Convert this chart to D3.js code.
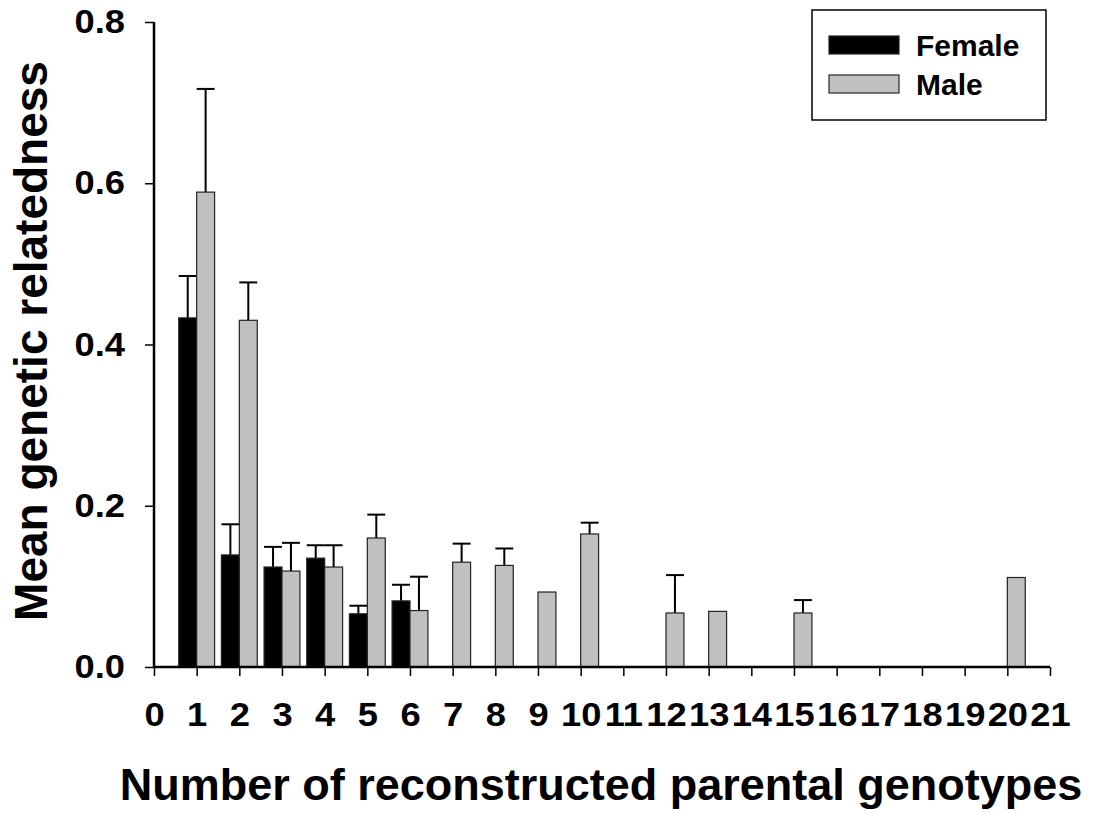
<!DOCTYPE html>
<html><head><meta charset="utf-8">
<script src="https://cdn.jsdelivr.net/npm/d3@7"></script>
<style>html,body{margin:0;padding:0;background:#fff;}svg{display:block;}text{font-family:"Liberation Sans",Arial,sans-serif;font-weight:bold;}</style>
</head><body>
<svg id="chart" width="1100" height="813"></svg>
<script>
const femaleX = [1, 2, 3, 4, 5, 6];
const femaleMean = [0.433, 0.139, 0.124, 0.135, 0.066, 0.082];
const femaleSE = [0.052, 0.038, 0.025, 0.016, 0.010, 0.020];
const maleX = [1, 2, 3, 4, 5, 6, 7, 8, 9, 10, 12, 13, 15, 20];
const maleMean = [0.589, 0.430, 0.119, 0.124, 0.160, 0.070, 0.130, 0.126, 0.093, 0.165, 0.067, 0.069, 0.067, 0.111];
const maleSE = [0.128, 0.047, 0.035, 0.027, 0.029, 0.042, 0.023, 0.021, 0, 0.014, 0.047, 0, 0.016, 0];
const xTicks = d3.range(0, 22);
const yTicks = [0.0, 0.2, 0.4, 0.6, 0.8];
const seriesNames = ["Female", "Male"];
const seriesColors = ["#000000", "#c0c0c0"];

const svg = d3.select("#chart");
const x = d3.scaleLinear().domain([0, 21]).range([154, 1050]);
const y = d3.scaleLinear().domain([0, 0.8]).range([667, 22]);
const unit = x(1) - x(0);
const bw = unit * 0.42;

const female = femaleX.map((c, i) => ({c, v: femaleMean[i], e: femaleSE[i], off: -1}));
const male = maleX.map((c, i) => ({c, v: maleMean[i], e: maleSE[i], off: 0}));

function drawSeries(data, color) {
  const g = svg.append("g");
  g.selectAll("line.err").data(data.filter(d => d.e > 0)).enter().append("line")
    .attr("x1", d => x(d.c) + d.off * bw + bw / 2).attr("x2", d => x(d.c) + d.off * bw + bw / 2)
    .attr("y1", d => y(d.v)).attr("y2", d => y(d.v + d.e))
    .attr("stroke", "#000").attr("stroke-width", 2);
  g.selectAll("line.cap").data(data.filter(d => d.e > 0)).enter().append("line")
    .attr("x1", d => x(d.c) + d.off * bw).attr("x2", d => x(d.c) + d.off * bw + bw)
    .attr("y1", d => y(d.v + d.e)).attr("y2", d => y(d.v + d.e))
    .attr("stroke", "#000").attr("stroke-width", 2);
  g.selectAll("rect").data(data).enter().append("rect")
    .attr("x", d => x(d.c) + d.off * bw).attr("width", bw)
    .attr("y", d => y(d.v)).attr("height", d => y(0) - y(d.v))
    .attr("fill", color).attr("stroke", "#222").attr("stroke-width", 1.2);
}
drawSeries(female, seriesColors[0]);
drawSeries(male, seriesColors[1]);

const xAxis = svg.append("g").attr("transform", `translate(0,${y(0)})`)
  .call(d3.axisBottom(x).tickValues(xTicks).tickSize(9).tickPadding(27).tickFormat(d3.format("d")));
const yAxis = svg.append("g").attr("transform", `translate(${x(0)},0)`)
  .call(d3.axisLeft(y).tickValues(yTicks).tickSize(9).tickPadding(20).tickFormat(d3.format(".1f")));
[xAxis, yAxis].forEach(a => {
  a.attr("font-size", null).attr("font-family", null);
  a.select(".domain").attr("stroke", "#000").attr("stroke-width", 2.5);
  a.selectAll(".tick line").attr("stroke", "#000").attr("stroke-width", 1.5);
  a.selectAll("text").attr("fill", "#000").style("font-size", "33px").style("font-weight", "bold")
    .style("font-family", '"Liberation Sans", Arial, sans-serif')
    .attr("transform", "scale(1.1,1)");
});
yAxis.selectAll("text").attr("x", -29 / 1.1);
xAxis.select(".domain").attr("d", `M${x(0)},0H${x(21)}`);
yAxis.select(".domain").attr("d", `M0,${y(0.8)}V${y(0)}`);

svg.append("text").attr("x", 601).attr("y", 800).attr("text-anchor", "middle")
  .style("font-size", "45px").text("Number of reconstructed parental genotypes");
svg.append("text").attr("transform", "translate(47,341) rotate(-90)").attr("text-anchor", "middle")
  .style("font-size", "46px").text("Mean genetic relatedness");

const lg = svg.append("g");
lg.append("rect").attr("x", 812).attr("y", 10).attr("width", 234).attr("height", 110)
  .attr("fill", "#fff").attr("stroke", "#000").attr("stroke-width", 1.5);
seriesNames.forEach((n, i) => {
  lg.append("rect").attr("x", 829).attr("y", 36 + i * 39).attr("width", 70).attr("height", 18)
    .attr("fill", seriesColors[i]).attr("stroke", "#222").attr("stroke-width", 1.2);
  lg.append("text").attr("x", 916).attr("y", 56 + i * 39).style("font-size", "30px").text(n);
});
</script>
</body></html>
